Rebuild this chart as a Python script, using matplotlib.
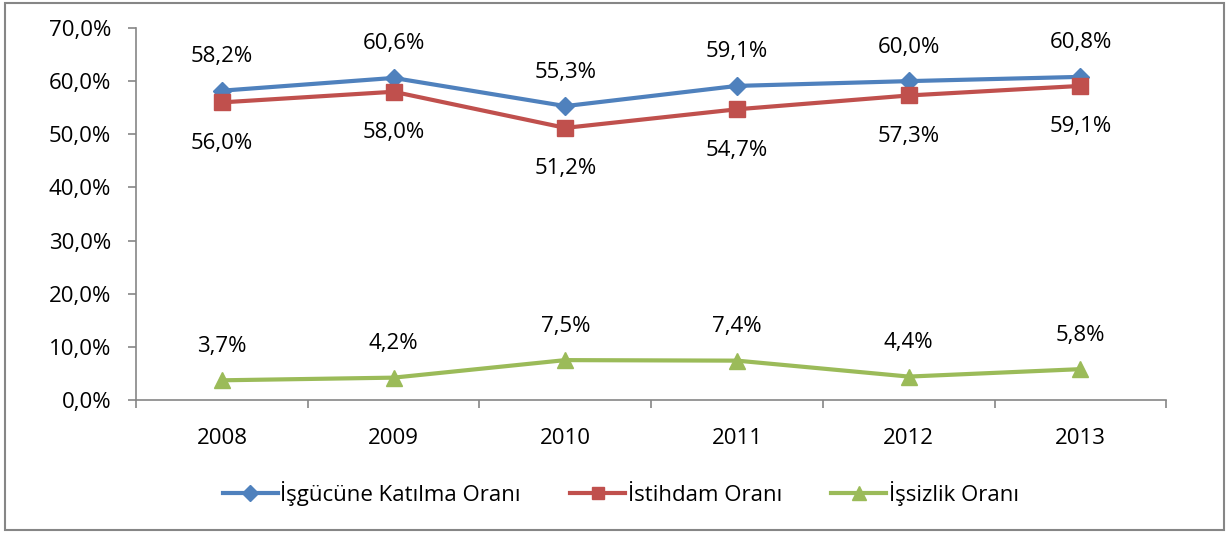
import matplotlib.pyplot as plt
from matplotlib.patches import Rectangle
from matplotlib.ticker import FixedLocator

plt.rcParams['font.family'] = ['Open Sans', 'DejaVu Sans']

years = ["2008", "2009", "2010", "2011", "2012", "2013"]
katilma = [58.2, 60.6, 55.3, 59.1, 60.0, 60.8]
istihdam = [56.0, 58.0, 51.2, 54.7, 57.3, 59.1]
issizlik = [3.7, 4.2, 7.5, 7.4, 4.4, 5.8]

series_names = ["İşgücüne Katılma Oranı", "İstihdam Oranı", "İşsizlik Oranı"]


def pct(v):
    return f"{v:.1f}%".replace(".", ",")


fs = 16

fig = plt.figure(figsize=(12.29, 5.34), dpi=100)
ax = fig.add_axes([0.1107, 0.251, 0.8383, 0.6966])

x = list(range(len(years)))
ax.plot(x, katilma, color="#4F81BD", lw=3, marker="D", ms=9,
        label=series_names[0])
ax.plot(x, istihdam, color="#C0504D", lw=3, marker="s", ms=11,
        label=series_names[1])
ax.plot(x, issizlik, color="#9BBB59", lw=3, marker="^", ms=12,
        label=series_names[2])

# data labels
for i, v in enumerate(katilma):
    ax.annotate(pct(v), (i, v), xytext=(0, 24.5), textcoords="offset points",
                ha="center", va="center", fontsize=fs)
for i, v in enumerate(istihdam):
    ax.annotate(pct(v), (i, v), xytext=(0, -29.5), textcoords="offset points",
                ha="center", va="center", fontsize=fs)
for i, v in enumerate(issizlik):
    ax.annotate(pct(v), (i, v), xytext=(0, 24.5), textcoords="offset points",
                ha="center", va="center", fontsize=fs)

ax.set_xlim(-0.5, len(years) - 0.5)
ax.set_ylim(0, 70)
ax.set_yticks(range(0, 71, 10))
ax.set_yticklabels([pct(t) for t in range(0, 71, 10)], fontsize=fs)
ax.set_xticks(x)
ax.set_xticklabels(years, fontsize=fs)
ax.tick_params(axis="x", length=0, pad=20)
ax.xaxis.set_minor_locator(FixedLocator([i - 0.5 for i in range(len(years) + 1)]))
ax.tick_params(axis="x", which="minor", length=6, color="#868686", width=1.2)
ax.tick_params(axis="y", length=6, color="#868686", width=1.2, pad=12)

for s in ["top", "right"]:
    ax.spines[s].set_visible(False)
for s in ["left", "bottom"]:
    ax.spines[s].set_color("#868686")
    ax.spines[s].set_linewidth(1.2)

fig.legend(loc="center", bbox_to_anchor=(0.505, 0.076), ncol=3, frameon=False,
           fontsize=fs, handlelength=2.5, handletextpad=0.1, columnspacing=2.2,
           markerscale=0.85)

fig.patches.append(Rectangle((0.004, 0.007), 0.992, 0.987, transform=fig.transFigure,
                             fill=False, edgecolor="#868686", lw=1.5))

fig.savefig("out.png", dpi=100)
